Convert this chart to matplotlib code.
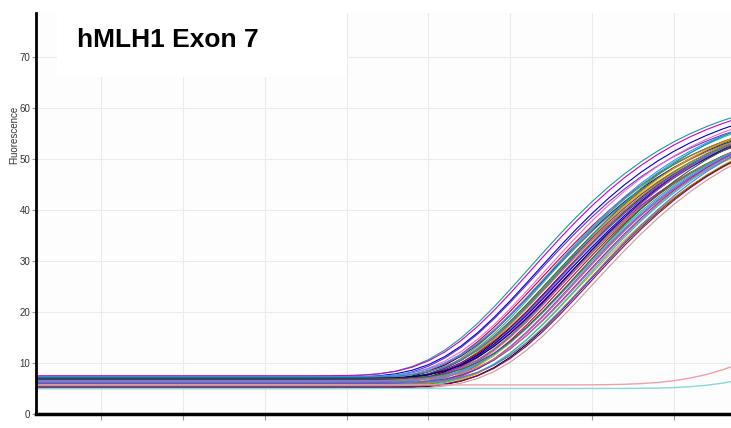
import numpy as np
import matplotlib.pyplot as plt

# Amplification curves, hMLH1 exon 7 (fluorescence vs cycle)
cycles = np.arange(1, 46)

# per well: inflection cycle, plateau height, baseline level
inflection = [
    31.1, 31.3, 31.5, 31.6, 31.8, 31.9, 32.0, 32.1,
    32.2, 32.2, 32.3, 32.4, 32.4, 32.5, 32.5, 32.6,
    32.6, 32.7, 32.7, 32.8, 32.8, 32.9, 32.9, 33.0,
    33.0, 33.1, 33.2, 33.2, 33.3, 33.3, 33.4, 33.5,
    33.5, 33.6, 33.7, 33.8, 33.9, 34.0, 34.1, 34.2,
    34.3, 34.4, 34.5, 34.6, 34.7, 34.8, 34.9, 35.0,
]
plateau = [
    57.0, 56.5, 55.0, 56.0, 54.5, 55.5, 56.0, 54.0,
    55.0, 53.5, 56.5, 54.0, 55.5, 53.0, 55.0, 56.0,
    54.0, 55.5, 53.0, 54.5, 56.0, 53.5, 55.0, 54.0,
    56.5, 53.0, 55.5, 54.0, 55.0, 53.5, 56.0, 54.5,
    53.5, 55.5, 54.5, 55.0, 54.0, 55.0, 55.5, 54.0,
    55.0, 55.5, 54.5, 55.0, 54.5, 55.0, 55.5, 55.0,
]
baseline = [
    7.4, 7.5, 6.8, 7.2, 6.2, 5.5, 7.0, 6.5,
    5.2, 6.9, 6.0, 5.6, 7.3, 5.0, 6.4, 5.8,
    6.6, 5.3, 7.1, 6.1, 5.4, 6.7, 5.9, 5.1,
    7.2, 6.3, 5.5, 6.8, 5.0, 6.2, 5.7, 7.0,
    5.3, 6.5, 5.9, 5.2, 6.4, 5.6, 6.9, 5.0,
    6.0, 5.4, 6.6, 5.1, 5.8, 5.3, 6.1, 5.0,
]
steep = 5.8

# the two late wells (no real amplification)
late_inflection = [51.3, 53.8]
late_plateau = [50.0, 50.0]
late_baseline = [5.7, 5.0]
late_steep = 8.0
late_colours = ["#f0a0a8", "#88d8d8"]

colours = ["#1a9c9c", "#cc00cc", "#6633cc", "#0000cc", "#cc0033", "#669933",
           "#ff66cc", "#000066", "#c8c800", "#996699", "#33aaaa", "#cc3366",
           "#3399ff", "#9966cc", "#336633", "#ff9900", "#663399", "#00cccc",
           "#cc6699", "#000000", "#999900", "#990066", "#6666ff", "#cc9999"]


def curve(m, a, b, s):
    return b + a*np.exp(-np.exp(-(cycles - m)/s))


fig = plt.figure(figsize=(7.31, 4.28), dpi=100)
ax = fig.add_axes([0.0492, 0.0327, 0.9508, 0.937])
ax.set_facecolor("#fdfdfd")

for i in range(len(inflection)):
    ax.plot(cycles, curve(inflection[i], plateau[i], baseline[i], steep),
            color=colours[i % len(colours)], lw=0.8)
for i in range(len(late_inflection)):
    ax.plot(cycles, curve(late_inflection[i], late_plateau[i], late_baseline[i], late_steep),
            color=late_colours[i], lw=1.0)

ax.set_xlim(1, 43.5)
ax.set_ylim(0, 78.6)
ax.set_xticks(np.arange(5, 45, 5))
ax.set_xticklabels([])
ax.set_yticks(np.arange(0, 80, 10))
ax.grid(True, color="#ebebeb", lw=0.8)
ax.set_axisbelow(True)

for s in ["top", "right"]:
    ax.spines[s].set_visible(False)
ax.spines["left"].set_linewidth(2)
ax.spines["bottom"].set_linewidth(2.5)
ax.tick_params(axis="x", length=4, color="#999999", direction="out")
ax.tick_params(axis="y", length=3, color="#999999", pad=1, labelcolor="#333333")
for lab in ax.get_yticklabels():
    lab.set_family(["Liberation Sans Narrow", "Liberation Sans", "DejaVu Sans"])
    lab.set_fontsize(7)

ax.set_ylabel("Fluorescence", fontsize=7, family=["Liberation Sans", "DejaVu Sans"],
              color="#333333")
ax.yaxis.set_label_coords(-0.024, 0.696)

# white title panel over the grid
ax.add_patch(plt.Rectangle((0.030, 0.840), 0.4175, 0.16, transform=ax.transAxes,
                           facecolor="white", edgecolor="none", zorder=1.5))
ax.text(0.059, 0.933, "hMLH1 Exon 7", transform=ax.transAxes, fontsize=19,
        fontweight="bold", family=["Liberation Sans", "DejaVu Sans"],
        va="center", ha="left", zorder=3)

fig.savefig("out.png", dpi=100)
